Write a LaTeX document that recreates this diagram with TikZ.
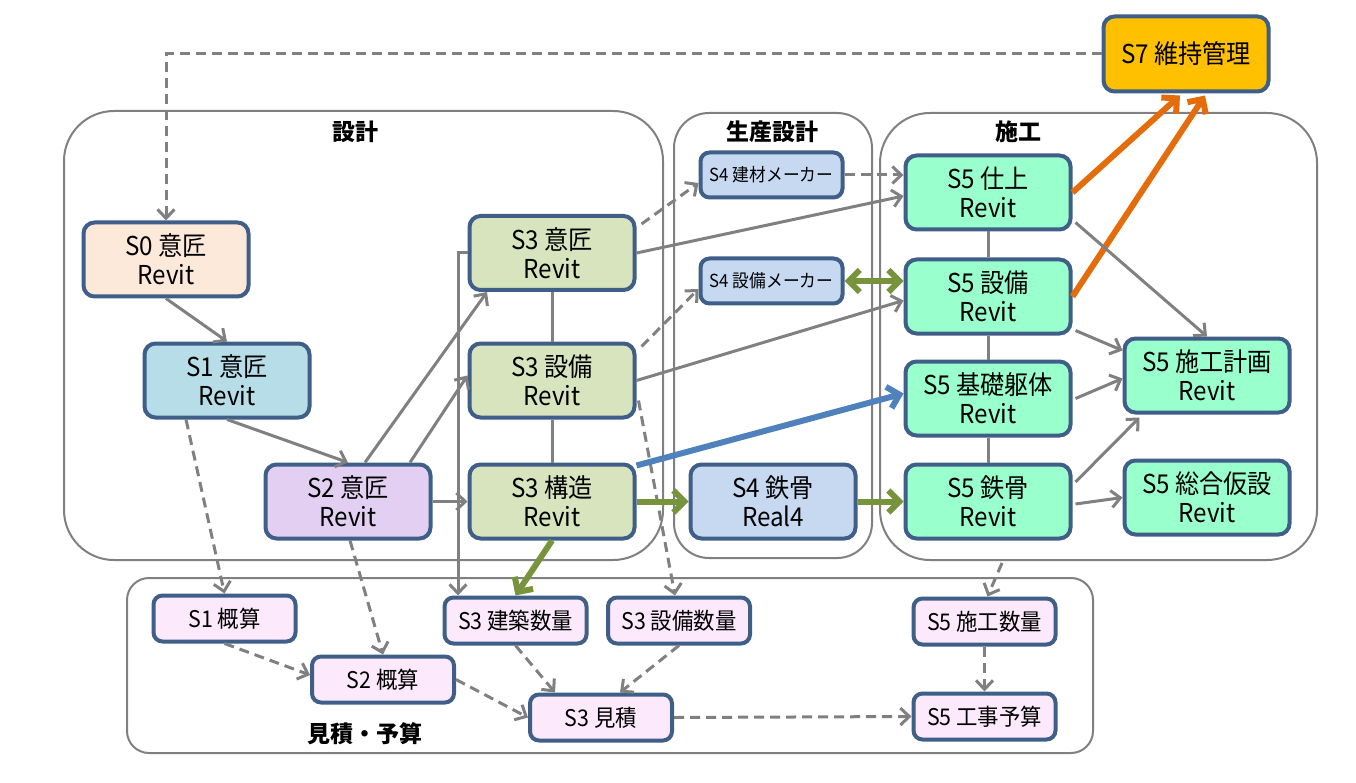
\documentclass[tikz,border=0pt]{standalone}
\usepackage{fontspec}
\setmainfont{Noto Sans CJK JP}[FakeStretch=0.93]
\newfontfamily\titlefont{Noto Sans CJK JP}
\usetikzlibrary{arrows.meta,calc}
\definecolor{edge}{HTML}{3F5E88}
\definecolor{gline}{HTML}{808080}
\definecolor{cS0}{HTML}{FCE9DA}
\definecolor{cS1}{HTML}{B7DEE8}
\definecolor{cS2}{HTML}{E2CFF1}
\definecolor{cS3}{HTML}{D7E4BD}
\definecolor{cS4}{HTML}{C6D9F1}
\definecolor{cS5}{HTML}{99FFCC}
\definecolor{cS7}{HTML}{FFC000}
\definecolor{cEst}{HTML}{FCE9FC}
\definecolor{corange}{HTML}{E46C0A}
\definecolor{cgreen}{HTML}{77933C}
\definecolor{cblue}{HTML}{4F81BD}
\tikzset{
  bigbox/.style={draw=edge, line width=4pt, rounded corners=11pt, minimum width=165pt, minimum height=74pt, inner sep=0pt, align=center, font=\fontsize{26}{29}\selectfont},
  smallbox/.style={draw=edge, line width=4pt, rounded corners=9pt, minimum width=142pt, minimum height=46pt, inner sep=0pt, align=center, font=\fontsize{23}{24}\selectfont, fill=cEst},
  makerbox/.style={draw=edge, line width=4pt, rounded corners=9pt, minimum width=142pt, minimum height=45pt, inner sep=0pt, align=center, font=\fontsize{18}{20}\selectfont, fill=cS4},
  grp/.style={draw=gline, line width=2pt, inner sep=0pt},
  grptitle/.style={font=\titlefont\bfseries\fontsize{23}{26}\selectfont},
  arr/.style={draw=gline, line width=3pt, -{Straight Barb[length=9pt,width=17pt,line width=3pt]}},
  plain/.style={draw=gline, line width=3pt},
  dasharr/.style={arr, dash pattern=on 10pt off 6pt},
  fat/.style={line width=6pt, -{Straight Barb[length=11pt,width=22pt,line width=6pt]}},
}
\begin{document}
\begin{tikzpicture}[x=1pt,y=-1pt]
\useasboundingbox (0,0) rectangle (1356,783);
% groups
\node[grp, rounded corners=50pt, minimum width=599pt, minimum height=449pt] (g1) at (363.5,335.5) {};
\node[grp, rounded corners=35pt, minimum width=198pt, minimum height=445pt] (g2) at (773,335.5) {};
\node[grp, rounded corners=50pt, minimum width=437pt, minimum height=447pt] (g3) at (1098.5,336.5) {};
\node[grp, rounded corners=22pt, minimum width=966pt, minimum height=175pt] (g4) at (610,665.5) {};
\node[grptitle] (t1) at (355,132) {設計};
\node[grptitle] (t2) at (772,132) {生産設計};
\node[grptitle] (t3) at (1018,132) {施工};
\node[grptitle] (t4) at (365,734) {見積・予算};
% nodes
\node[bigbox, fill=cS7, minimum height=75pt] (s7) at (1186,54) {S7 維持管理};
\node[bigbox, fill=cS0] (s0) at (166,259.5) {S0 意匠\\Revit};
\node[bigbox, fill=cS1] (s1) at (227,380.5) {S1 意匠\\Revit};
\node[bigbox, fill=cS2] (s2) at (348,501.5) {S2 意匠\\Revit};
\node[bigbox, fill=cS3] (s3a) at (552,253) {S3 意匠\\Revit};
\node[bigbox, fill=cS3] (s3b) at (552,380.5) {S3 設備\\Revit};
\node[bigbox, fill=cS3] (s3c) at (552,501.5) {S3 構造\\Revit};
\node[makerbox] (s4a) at (771.5,175) {S4 建材メーカー};
\node[makerbox] (s4b) at (771.5,281) {S4 設備メーカー};
\node[bigbox, fill=cS4] (s4c) at (773,501.5) {S4 鉄骨\\Real4};
\node[bigbox, fill=cS5] (s5a) at (988,192.5) {S5 仕上\\Revit};
\node[bigbox, fill=cS5] (s5b) at (988,296.5) {S5 設備\\Revit};
\node[bigbox, fill=cS5] (s5c) at (988,398.5) {S5 基礎躯体\\Revit};
\node[bigbox, fill=cS5] (s5d) at (988,501.5) {S5 鉄骨\\Revit};
\node[bigbox, fill=cS5] (s5e) at (1207,375.5) {S5 施工計画\\Revit};
\node[bigbox, fill=cS5] (s5f) at (1207,497.5) {S5 総合仮設\\Revit};
\node[smallbox] (e1) at (224.5,618.5) {S1 概算};
\node[smallbox] (e2) at (383,679.5) {S2 概算};
\node[smallbox] (e3) at (515.5,620.5) {S3 建築数量};
\node[smallbox] (e4) at (679,620.5) {S3 設備数量};
\node[smallbox] (e5) at (601,717.5) {S3 見積};
\node[smallbox] (e6) at (984.5,621.5) {S5 施工数量};
\node[smallbox] (e7) at (984.5,716.5) {S5 工事予算};
% connectors
\draw[dasharr] (s7.west) -| (s0.north);
\draw[arr] (s0.south) -- (s1.north);
\draw[arr] (s1.south) -- (s2.north);
\draw[dasharr] ([xshift=-41pt]s1.south) -- (e1.north);
\draw[arr] ([xshift=17pt]s2.north) -- ([xshift=-65pt]s3a.south);
\draw[arr] ([xshift=62pt]s2.north) -- ([yshift=5pt]s3b.west);
\draw[arr] (s2.east) -- (s3c.west);
\draw[dasharr] ([xshift=2pt]s2.south) -- (e2.north);
\draw[arr] (s3a.west) -| ([xshift=-57.5pt]e3.north);
\draw[plain] (s3a.south) -- (s3b.north);
\draw[plain] (s3b.south) -- (s3c.north);
\draw[dasharr] ([xshift=5pt,yshift=-10pt]s3a.north east) -- ([yshift=-8pt]s4a.west);
\draw[arr] (s3a.east) -- ([yshift=-3.5pt]s5a.west);
\draw[dasharr] ([xshift=5pt,yshift=-5pt]s3b.north east) -- ([yshift=-8pt]s4b.west);
\draw[arr] (s3b.east) -- ([yshift=-4pt]s5b.west);
\draw[dasharr] ([xshift=2pt,yshift=19pt]s3b.south east) -- ([xshift=-4pt]e4.north);
\draw[fat, cblue] ([yshift=-3pt]s3c.north east) -- ([yshift=5pt]s5c.west);
\draw[fat, cgreen] (s3c.east) -- (s4c.west);
\draw[fat, cgreen] (s3c.south) -- (e3.north);
\draw[dasharr] (s4a.east) -- (s5a.west |- s4a.east);
\draw[fat, cgreen, {Straight Barb[length=11pt,width=22pt,line width=6pt]}-{Straight Barb[length=11pt,width=22pt,line width=6pt]}] (s4b.east) -- (s5b.west |- s4b.east);
\draw[fat, cgreen] (s4c.east) -- (s5d.west);
\draw[plain] (s5a.south) -- (s5b.north);
\draw[plain] (s5b.south) -- (s5c.north);
\draw[plain] (s5c.south) -- (s5d.north);
\draw[fat, corange] (s5a.east) -- ([xshift=-6pt,yshift=-2pt]s7.south);
\draw[fat, corange] (s5b.east) -- ([xshift=19pt,yshift=-2pt]s7.south);
\draw[arr] ([xshift=3pt,yshift=9pt]s5a.south east) -- (s5e.north);
\draw[arr] ([xshift=3pt,yshift=5pt]s5b.south east) -- ([yshift=25pt]s5e.west);
\draw[arr] ([xshift=3pt]s5c.east) -- ([yshift=-3pt]s5e.west);
\draw[arr] ([xshift=3pt,yshift=19.5pt]s5d.east) -- ([xshift=17pt,yshift=-3pt]s5e.south west);
\draw[arr] ([xshift=3pt,yshift=-2.5pt]s5d.east) -- (s5f.west);
\draw[dasharr] ([xshift=-96.5pt,yshift=-2pt]g3.south) -- ([xshift=3pt]e6.north);
\draw[dasharr] (e1.south) -- ([yshift=4.5pt]e2.west);
\draw[dasharr] (e2.east) -- (e5.west);
\draw[dasharr] (e3.south) -- ([xshift=-46pt]e5.north);
\draw[dasharr] (e4.south) -- ([xshift=19pt]e5.north);
\draw[dasharr] (e5.east) -- (e7.west);
\draw[dasharr] (e6.south) -- (e7.north);
\end{tikzpicture}
\end{document}
